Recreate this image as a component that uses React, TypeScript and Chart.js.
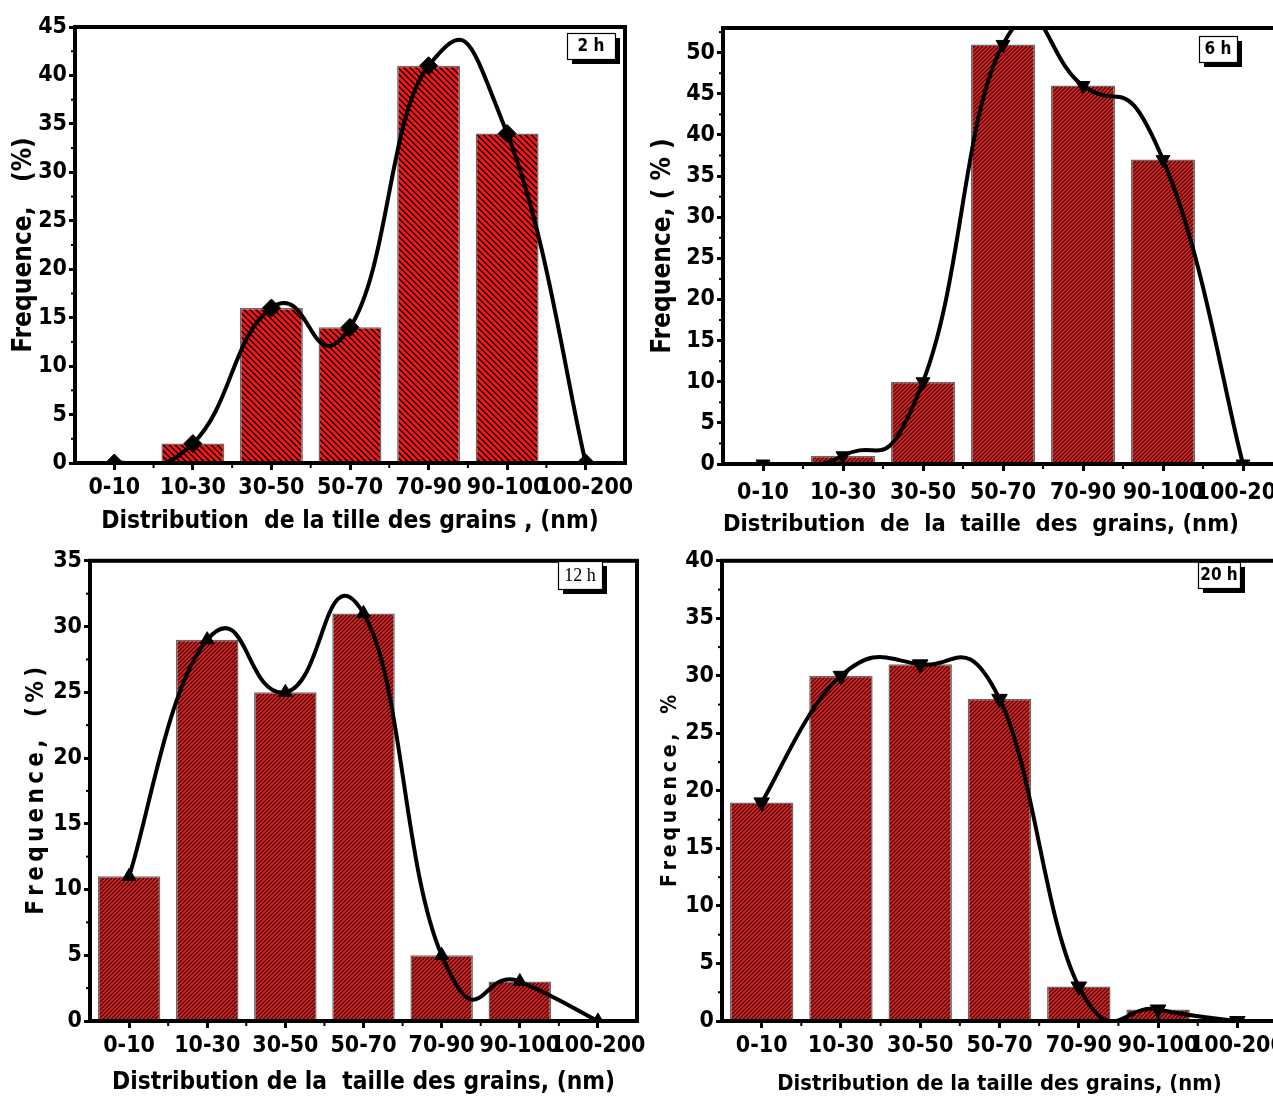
import React, { useEffect, useRef } from "react";
import { Chart, registerables } from "chart.js";

Chart.register(...registerables);

// ---------------- data ----------------
const categories = ["0-10", "10-30", "30-50", "50-70", "70-90", "90-100", "100-200"];
const freq2h = [0, 2, 16, 14, 41, 34, 0];
const freq6h = [0, 1, 10, 51, 46, 37, 0];
const freq12h = [11, 29, 25, 31, 5, 3, 0];
const freq20h = [19, 30, 31, 28, 3, 1, 0];
const yMaxes = [45, 53, 35, 40];
const panelLabels = ["2 h", "6 h", "12 h", "20 h"];
const TS = "\u2009";
const yTitles = [
  "Frequence,   (%)",
  "Frequence, ( % )",
  ["F", "r", "e", "q", "u", "e", "n", "c", "e", ","].join(TS) + "   (" + TS + "%" + TS + ")",
  ["F", "r", "e", "q", "u", "e", "n", "c", "e", ","].join(TS) + "   %",
];
const xTitles = [
  "Distribution  de la tille des grains , (nm)",
  "Distribution  de  la  taille  des  grains, (nm)",
  "Distribution de la  taille des grains, (nm)",
  "Distribution de la taille des grains, (nm)",
];

const FF = '"Liberation Sans Narrow", "Arial Narrow", "DejaVu Sans Condensed", "Liberation Sans", sans-serif';

type RGB = [number, number, number];
// profile: colours across one stripe period (pixels along the diagonal)
type Hatch = { profile: RGB[]; dir: number };

type PanelCfg = {
  data: number[];
  max: number;
  label: string;
  labelFont: string;
  yTitle: string;
  xTitle: string;
  xTitleAlign: string;
  left: number;
  top: number;
  width: number;
  height: number;
  yAxisW: number;
  xAxisH: number;
  padTop: number;
  padRight: number;
  yTitlePad: number;
  xTitlePadBottom: number;
  xTitleSize: number;
  yTitleSize: number;
  tickPad: number;
  pointStyle: string;
  rotation: number;
  radius: number;
  k: number;
  hatch: Hatch;
  box: { x: number; y: number; w: number; h: number };
};

const brightHatch: Hatch = {
  profile: [[0, 0, 0], [60, 0, 0], [240, 18, 18], [250, 20, 20], [250, 20, 20], [200, 14, 14]],
  dir: 1,
};
const darkHatch: Hatch = {
  profile: [[58, 6, 6], [165, 22, 22], [226, 40, 40], [165, 22, 22]],
  dir: -1,
};

const panels: PanelCfg[] = [
  {
    data: freq2h, max: yMaxes[0], label: panelLabels[0], labelFont: `bold 17px ${FF}`,
    yTitle: yTitles[0], xTitle: xTitles[0], xTitleAlign: "center",
    left: 0, top: 0, width: 640, height: 545,
    yAxisW: 75, xAxisH: 82, padTop: 27, padRight: 15,
    yTitlePad: 9, xTitlePadBottom: 9, xTitleSize: 24.4, yTitleSize: 26, tickPad: 4,
    pointStyle: "rectRot", rotation: 0, radius: 9, k: 1.5,
    hatch: brightHatch,
    box: { x: 567, y: 33, w: 48, h: 26 },
  },
  {
    data: freq6h, max: yMaxes[1], label: panelLabels[1], labelFont: `bold 17px ${FF}`,
    yTitle: yTitles[1], xTitle: xTitles[1], xTitleAlign: "start",
    left: 640, top: 0, width: 660, height: 545,
    yAxisW: 83, xAxisH: 81, padTop: 28, padRight: 17,
    yTitlePad: 8, xTitlePadBottom: 6, xTitleSize: 23.5, yTitleSize: 26, tickPad: 8,
    pointStyle: "triangle", rotation: 180, radius: 8, k: 1.5,
    hatch: darkHatch,
    box: { x: 559, y: 36, w: 38, h: 26 },
  },
  {
    data: freq12h, max: yMaxes[2], label: panelLabels[2], labelFont: `18px "Liberation Serif", "DejaVu Serif", serif`,
    yTitle: yTitles[2], xTitle: xTitles[2], xTitleAlign: "center",
    left: 0, top: 545, width: 650, height: 552,
    yAxisW: 90, xAxisH: 76, padTop: 8, padRight: 8,
    yTitlePad: 22, xTitlePadBottom: 0, xTitleSize: 24.3, yTitleSize: 24, tickPad: 4,
    pointStyle: "triangle", rotation: 0, radius: 8, k: 1.5,
    hatch: darkHatch,
    box: { x: 558, y: 16, w: 44, h: 28 },
  },
  {
    data: freq20h, max: yMaxes[3], label: panelLabels[3], labelFont: `bold 17px ${FF}`,
    yTitle: yTitles[3], xTitle: xTitles[3], xTitleAlign: "center",
    left: 640, top: 545, width: 660, height: 552,
    yAxisW: 82, xAxisH: 76, padTop: 11, padRight: 23,
    yTitlePad: 18, xTitlePadBottom: 0, xTitleSize: 21.8, yTitleSize: 21, tickPad: 4,
    pointStyle: "triangle", rotation: 180, radius: 9, k: 1.3,
    hatch: darkHatch,
    box: { x: 558, y: 17, w: 42, h: 26 },
  },
];

// pixel-exact diagonal hatch pattern
function makeHatch(h: Hatch): CanvasPattern | string {
  const s = h.profile.length;
  const c = document.createElement("canvas");
  c.width = s;
  c.height = s;
  const g = c.getContext("2d");
  const fallback = `rgb(${h.profile[2].join(",")})`;
  if (!g) return fallback;
  const img = g.createImageData(s, s);
  for (let y = 0; y < s; y++) {
    for (let x = 0; x < s; x++) {
      const m = h.dir > 0 ? (((x - y) % s) + s) % s : (x + y) % s;
      const col = h.profile[m];
      const o = (y * s + x) * 4;
      img.data[o] = col[0];
      img.data[o + 1] = col[1];
      img.data[o + 2] = col[2];
      img.data[o + 3] = 255;
    }
  }
  g.putImageData(img, 0, 0);
  return g.createPattern(c, "repeat") || fallback;
}

// uniform cardinal spline through the library's own point positions
const splinePlugin = {
  id: "cardinal",
  beforeDatasetsDraw(chart: any, _args: any, opts: any) {
    const k = opts.k ?? 1;
    chart.getSortedVisibleDatasetMetas().forEach((meta: any) => {
      if (meta.type !== "line") return;
      const pts = meta.data;
      const n = pts.length;
      for (let i = 0; i < n; i++) {
        const p = pts[i];
        const prev = pts[Math.max(0, i - 1)];
        const next = pts[Math.min(n - 1, i + 1)];
        const tx = ((next.x - prev.x) * k) / 6;
        const ty = ((next.y - prev.y) * k) / 6;
        p.cp1x = p.x - tx;
        p.cp1y = p.y - ty;
        p.cp2x = p.x + tx;
        p.cp2y = p.y + ty;
      }
      if (meta.dataset) {
        meta.dataset._pointsUpdated = true;
        meta.dataset._path = undefined;
      }
    });
  },
};

const framePlugin = {
  id: "frameAndBox",
  afterDraw(chart: any, _args: any, opts: any) {
    const { ctx, chartArea: a } = chart;
    ctx.save();
    const yScale = chart.scales.y;
    ctx.strokeStyle = "#000";
    ctx.lineWidth = 2;
    for (let v = 2.5; v < opts.max; v += 5) {
      const py = yScale.getPixelForValue(v);
      ctx.beginPath();
      ctx.moveTo(a.left, py);
      ctx.lineTo(a.left - 4, py);
      ctx.stroke();
    }
    const xScale = chart.scales.x;
    for (let i = 0; i < categories.length - 1; i++) {
      const px = (xScale.getPixelForValue(i) + xScale.getPixelForValue(i + 1)) / 2;
      ctx.beginPath();
      ctx.moveTo(px, a.bottom);
      ctx.lineTo(px, a.bottom + 5);
      ctx.stroke();
    }
    ctx.lineWidth = 4;
    ctx.strokeRect(a.left, a.top, a.right - a.left, a.bottom - a.top);
    const b = opts.box;
    ctx.fillStyle = "#000";
    ctx.fillRect(b.x + 5, b.y + 5, b.w, b.h);
    ctx.fillStyle = "#fff";
    ctx.fillRect(b.x, b.y, b.w, b.h);
    ctx.lineWidth = 1.2;
    ctx.strokeRect(b.x + 0.5, b.y + 0.5, b.w, b.h);
    ctx.fillStyle = "#000";
    ctx.font = opts.labelFont;
    ctx.textAlign = "center";
    ctx.textBaseline = "middle";
    ctx.fillText(opts.label, b.x + b.w / 2, b.y + b.h / 2 + 1);
    ctx.restore();
  },
};

function Panel({ cfg }: { cfg: PanelCfg }) {
  const ref = useRef<HTMLCanvasElement>(null);
  useEffect(() => {
    const canvas = ref.current;
    if (!canvas) return;
    const hatch = makeHatch(cfg.hatch);
    const tickFont = { family: FF, size: 23, weight: "bold" as const };
    const chart = new Chart(canvas, {
      type: "bar",
      data: {
        labels: categories,
        datasets: [
          {
            type: "line" as const,
            data: cfg.data,
            borderColor: "#000",
            borderWidth: 4,
            tension: 0.4,
            capBezierPoints: false,
            fill: false,
            pointStyle: cfg.pointStyle as any,
            pointRotation: cfg.rotation,
            pointRadius: cfg.radius,
            pointBackgroundColor: "#000",
            pointBorderColor: "#000",
            pointBorderWidth: 1,
            order: 0,
          } as any,
          {
            type: "bar" as const,
            data: cfg.data,
            backgroundColor: hatch as any,
            borderColor: "#6a6a6a",
            borderWidth: 1.5,
            barPercentage: 0.8,
            categoryPercentage: 1,
            order: 1,
          },
        ],
      },
      options: {
        animation: false,
        responsive: false,
        devicePixelRatio: 1,
        layout: { autoPadding: false, padding: { top: cfg.padTop, right: cfg.padRight, left: 0, bottom: 0 } },
        plugins: {
          legend: { display: false },
          tooltip: { enabled: false },
          cardinal: { k: cfg.k },
          frameAndBox: { max: cfg.max, box: cfg.box, label: cfg.label, labelFont: cfg.labelFont },
        } as any,
        scales: {
          x: {
            type: "category",
            offset: true,
            grid: { display: true, drawOnChartArea: false, drawTicks: true, tickLength: 7, color: "#000", lineWidth: 3, offset: false },
            border: { display: false },
            ticks: { color: "#000", font: tickFont, padding: cfg.tickPad, maxRotation: 0, autoSkip: false },
            title: {
              display: true,
              text: cfg.xTitle,
              align: cfg.xTitleAlign,
              color: "#000",
              font: { family: FF, size: cfg.xTitleSize, weight: "bold" },
              padding: { top: 0, bottom: cfg.xTitlePadBottom },
            },
            afterFit: (s: any) => {
              s.height = cfg.xAxisH;
            },
          },
          y: {
            min: 0,
            max: cfg.max,
            grid: { display: true, drawOnChartArea: false, drawTicks: true, tickLength: 6, color: "#000", lineWidth: 3 },
            border: { display: false },
            ticks: { color: "#000", font: tickFont, stepSize: 5, padding: 2, includeBounds: false },
            title: {
              display: true,
              text: cfg.yTitle,
              color: "#000",
              font: { family: FF, size: cfg.yTitleSize, weight: "bold" },
              padding: { top: cfg.yTitlePad, bottom: 0 },
            },
            afterFit: (s: any) => {
              s.width = cfg.yAxisW;
            },
          },
        },
      } as any,
      plugins: [splinePlugin, framePlugin],
    });
    return () => chart.destroy();
  }, [cfg]);
  return (
    <canvas
      ref={ref}
      width={cfg.width}
      height={cfg.height}
      style={{ position: "absolute", left: cfg.left, top: cfg.top, width: cfg.width, height: cfg.height }}
    />
  );
}

export default function App() {
  return (
    <div
      style={{
        position: "absolute",
        left: 0,
        top: 0,
        width: 1273,
        height: 1097,
        overflow: "hidden",
        background: "#fff",
      }}
    >
      {panels.map((p, i) => (
        <Panel key={i} cfg={p} />
      ))}
    </div>
  );
}
